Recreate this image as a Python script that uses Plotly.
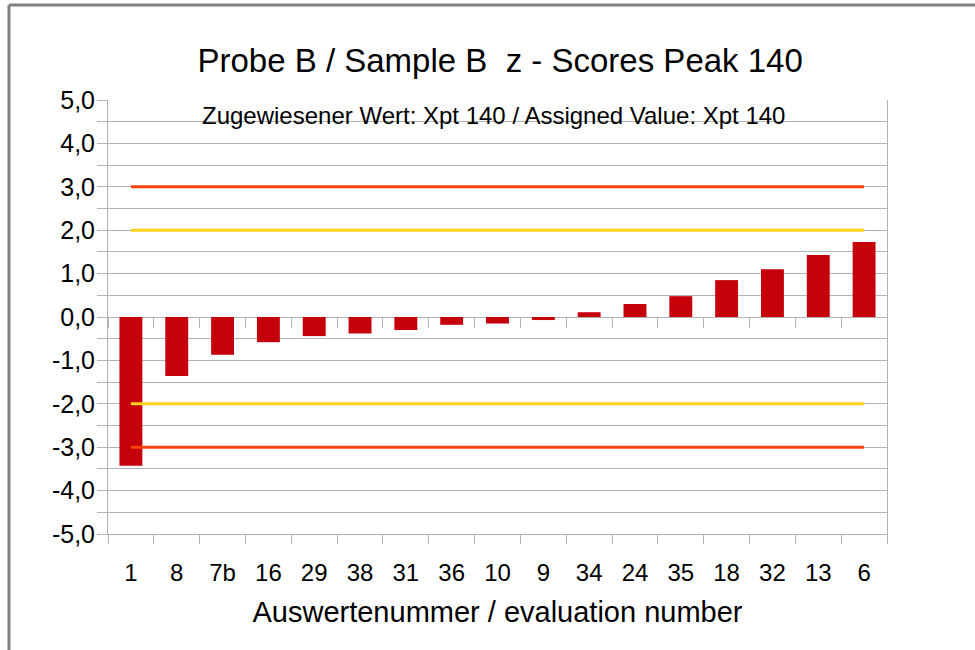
import plotly.graph_objects as go

categories = ["1", "8", "7b", "16", "29", "38", "31", "36", "10", "9", "34", "24", "35", "18", "32", "13", "6"]
z_scores = [-3.43, -1.36, -0.87, -0.58, -0.44, -0.38, -0.30, -0.18, -0.15, -0.07, 0.11, 0.30, 0.48, 0.85, 1.10, 1.43, 1.73]
limit_red = 3.0
limit_yellow = 2.0
y_tick_values = [-5, -4, -3, -2, -1, 0, 1, 2, 3, 4, 5]
y_tick_labels = ["-5,0", "-4,0", "-3,0", "-2,0", "-1,0", "0,0", "1,0", "2,0", "3,0", "4,0", "5,0"]

y_range = [-5, 5]
dom_y = [0.0, 1.0]

FONT = "Liberation Sans, Arial, sans-serif"
GRID = "#b3b3b3"

fig = go.Figure()
fig.add_trace(go.Bar(x=categories, y=z_scores, marker=dict(color="#c5000b", line=dict(width=0)),
                     showlegend=False))
for val, col in [(limit_yellow, "#ffd320"), (-limit_yellow, "#ffd320"), (limit_red, "#ff420e"), (-limit_red, "#ff420e")]:
    fig.add_trace(go.Scatter(x=[categories[0], categories[-1]], y=[val, val], mode="lines",
                             line=dict(color=col, width=3), showlegend=False, hoverinfo="skip"))

zero_pos = dom_y[0] + (0 - y_range[0]) / (y_range[1] - y_range[0]) * (dom_y[1] - dom_y[0])

fig.update_layout(
    width=975, height=650,
    margin=dict(l=108, r=88, t=100, b=116),
    paper_bgcolor="white", plot_bgcolor="white",
    bargap=0.5,
    font=dict(family=FONT, color="black"),
    title=dict(text="Probe B / Sample B  z - Scores Peak 140", x=0.513, xanchor="center",
               y=1 - 60 / 650, yanchor="middle", font=dict(size=33, family=FONT, color="black")),
    xaxis=dict(type="category", tickson="boundaries", ticks="outside", ticklen=9, tickcolor=GRID,
               showline=True, linecolor=GRID, linewidth=1, mirror=False, showgrid=False,
               tickfont=dict(size=24), ticklabelstandoff=17,
               title=dict(text="Auswertenummer / evaluation number", font=dict(size=29), standoff=16),
               domain=[0, 1]),
    xaxis2=dict(type="category", overlaying="x", anchor="free", position=zero_pos, side="bottom",
                tickson="boundaries", ticks="outside", ticklen=10, tickcolor=GRID,
                showticklabels=False, showgrid=False, showline=False, matches="x"),
    yaxis=dict(range=y_range, tickmode="array", tickvals=y_tick_values, ticktext=y_tick_labels,
               ticks="outside", ticklen=10, tickcolor=GRID, ticklabelstandoff=-3,
               showgrid=True, gridcolor=GRID, gridwidth=1, zeroline=False,
               showline=True, linecolor=GRID, linewidth=1, mirror=True,
               tickfont=dict(size=25), domain=dom_y,
               minor=dict(tickmode="linear", tick0=-5, dtick=0.5, showgrid=True, gridcolor=GRID,
                          ticks="outside", ticklen=10, tickcolor=GRID)),
    annotations=[dict(text="Zugewiesener Wert: Xpt 140 / Assigned Value: Xpt 140", xref="paper", yref="paper",
                      x=(493 - 108) / 779, y=(534 - 115) / 434, xanchor="center", yanchor="middle",
                      showarrow=False, font=dict(size=24, family=FONT, color="black"))],
    shapes=[
        dict(type="line", xref="paper", yref="paper", x0=-0.1271, x1=1.2, y0=1.2189, y1=1.2189,
             line=dict(color="#808080", width=3)),
        dict(type="line", xref="paper", yref="paper", x0=-0.1271, x1=-0.1271, y0=1.2189, y1=-0.3,
             line=dict(color="#808080", width=3)),
    ],
)
fig.add_trace(go.Scatter(x=categories, y=[None] * len(categories), xaxis="x2", mode="lines",
                         showlegend=False, hoverinfo="skip"))

fig.write_html("out.html", config={"displayModeBar": False},
               post_script="document.body.style.margin='0';")
